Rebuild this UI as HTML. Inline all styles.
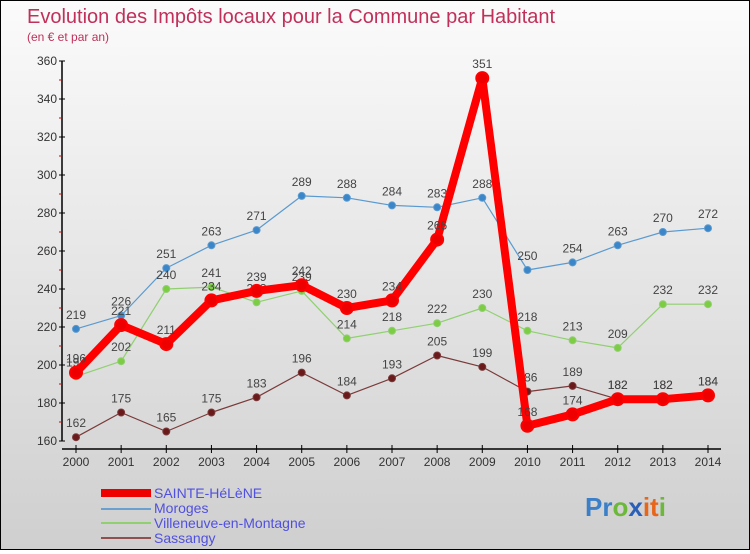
<!DOCTYPE html>
<html><head><meta charset="utf-8"><style>
html,body{margin:0;padding:0}
body{width:750px;height:550px;overflow:hidden;font-family:"Liberation Sans",sans-serif}
#wrap{position:relative;width:748px;height:548px;border:1px solid #000;background:linear-gradient(#fbfbfb,#cfcfcf)}
</style></head><body>
<div id="wrap">
<svg id="chart" width="748" height="548">
<text x="26" y="22" font-size="20" fill="#c0305a">Evolution des Impôts locaux pour la Commune par Habitant</text>
<text x="26" y="40" font-size="12" fill="#c0305a">(en € et par an)</text>
<g id="axes"></g><g id="series"></g>
<g>
<rect x="100" y="488" width="50" height="8" fill="#e00"/>
<line x1="100" y1="508" x2="150" y2="508" stroke="#6aa0d0" stroke-width="2"/>
<line x1="100" y1="522" x2="150" y2="522" stroke="#90d070" stroke-width="2"/>
<line x1="100" y1="537" x2="150" y2="537" stroke="#905050" stroke-width="2"/>
<g font-size="14" fill="#5050e0">
<text x="153" y="497">SAINTE-HéLèNE</text>
<text x="153" y="512">Moroges</text>
<text x="153" y="527">Villeneuve-en-Montagne</text>
<text x="153" y="542">Sassangy</text>
</g></g>
<text x="584" y="515" font-size="26" font-weight="bold"><tspan fill="#3a7fc8">Pr</tspan><tspan fill="#6cb83a">o</tspan><tspan fill="#2a5fb8">x</tspan><tspan fill="#e8661a">it</tspan><tspan fill="#6cb83a">i</tspan></text>
</svg></div>
<script>
const years=[2000,2001,2002,2003,2004,2005,2006,2007,2008,2009,2010,2011,2012,2013,2014];
const yTicks=[160,180,200,220,240,260,280,300,320,340,360];
const sainte=[196,221,211,234,239,242,230,234,266,351,168,174,182,182,184];
const moroges=[219,226,251,263,271,289,288,284,283,288,250,254,263,270,272];
const villeneuve=[194,202,240,241,233,239,214,218,222,230,218,213,209,232,232];
const sassangy=[162,175,165,175,183,196,184,193,205,199,186,189,182,182,184];
const NS="http://www.w3.org/2000/svg";
function X(i){return 75+i*(707-75)/(years.length-1);}
function Y(v){return 440-(v-160)*(380/200);}
function mk(t,a,p){const e=document.createElementNS(NS,t);for(const k in a)e.setAttribute(k,a[k]);p.appendChild(e);return e;}
const ax=document.getElementById('axes');
const yl=mk('line',{x1:61,y1:Y(360),x2:61,y2:440,stroke:'#000','stroke-width':1.5},ax);


const xl=mk('line',{x1:61,y1:448,x2:720,y2:448,stroke:'#000','stroke-width':1.5},ax);


yTicks.forEach((v,i)=>{
 mk('line',{x1:58,y1:Y(v),x2:64,y2:Y(v),stroke:'#000'},ax);
 if(i<yTicks.length-1) mk('line',{x1:58,y1:Y(v+10),x2:61,y2:Y(v+10),stroke:'#d00'},ax);
 const t=mk('text',{x:56,y:Y(v)+4,'text-anchor':'end','font-size':12,fill:'#333'},ax);t.textContent=v;
 
 
});
years.forEach((y,i)=>{
 mk('line',{x1:X(i),y1:444,x2:X(i),y2:452,stroke:'#000'},ax);
 const t=mk('text',{x:X(i),y:465,'text-anchor':'middle','font-size':12,fill:'#333'},ax);t.textContent=y;
 
 
});
const sg=document.getElementById('series');
function draw(data,color,w,r,fill,name){
 const g=mk('g',{},sg);
 
 
 mk('polyline',{points:data.map((v,i)=>X(i)+','+Y(v)).join(' '),fill:'none',stroke:color,'stroke-width':w,'stroke-linejoin':'round'},g);
 data.forEach((v,i)=>{
  const c=mk('circle',{cx:X(i),cy:Y(v),r:r,fill:fill,stroke:color,'stroke-width':w>4?2:1},g);
  
  
  const t=mk('text',{x:X(i),y:Y(v)-10,'text-anchor':'middle','font-size':12,fill:'#444'},g);t.textContent=v;
  
  
 });
}
draw(moroges,'#5a9ad0',1.2,3.5,'#3a86c8','series-moroges');
draw(villeneuve,'#90d070',1.2,3.5,'#7ccc44','series-villeneuve');
draw(sassangy,'#7a3a3a',1.2,3.5,'#6a1a1a','series-sassangy');
draw(sainte,'#f00',8,6,'#e00','series-sainte-helene');
</script>
</body></html>
